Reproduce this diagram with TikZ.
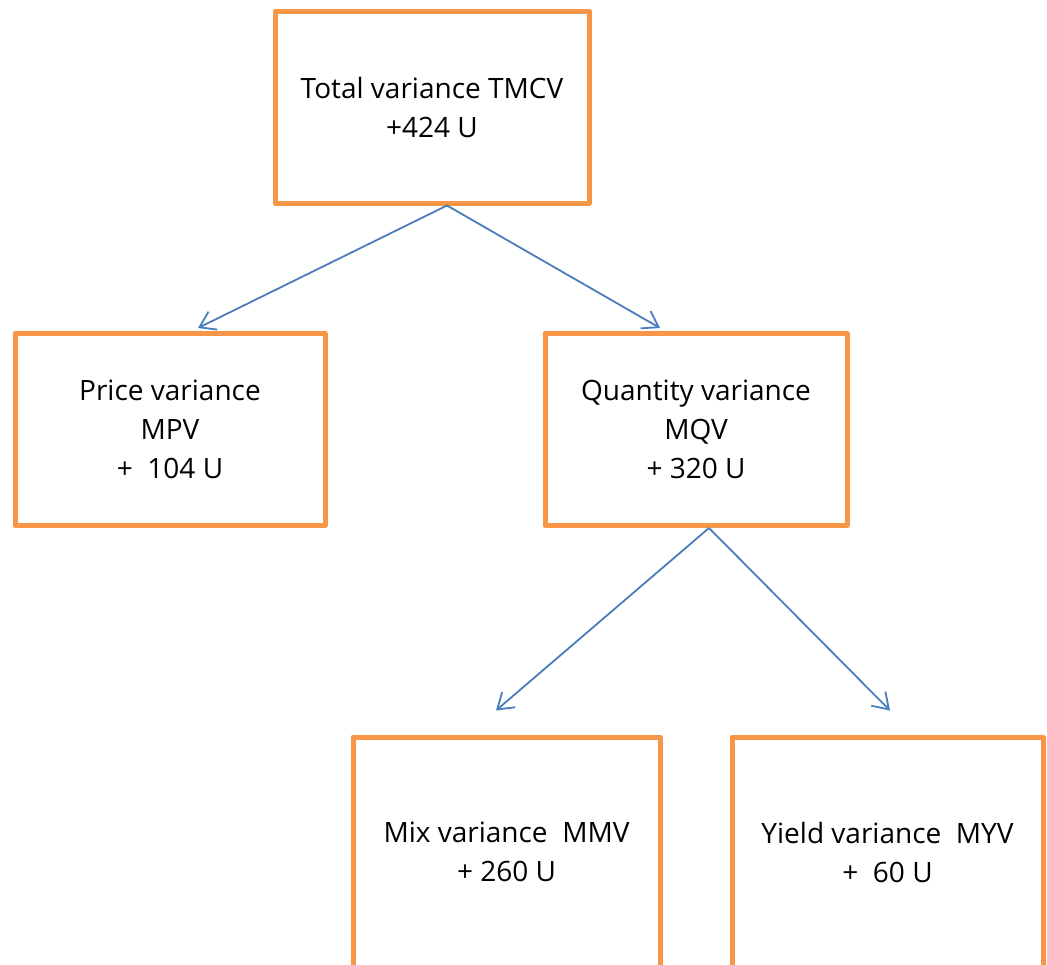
\documentclass[tikz,border=0pt]{standalone}
\usepackage{fontspec}
\setmainfont{Open Sans}
\usetikzlibrary{arrows.meta,calc}
\definecolor{boxorange}{HTML}{F79646}
\definecolor{linkblue}{HTML}{4A7EBB}
\begin{document}
\begin{tikzpicture}[x=1pt,y=-1pt,
  varbox/.style={draw=boxorange,line width=5pt,line join=round,rectangle,
    align=center,inner sep=0pt,font=\fontsize{28}{39}\selectfont},
  link/.style={draw=linkblue,line width=1.8pt,
    -{Straight Barb[length=15pt,width=20pt,line width=1.8pt]}}]
\useasboundingbox (0,0) rectangle (1047,964);
\clip (0,0) rectangle (1047,964);

% variance boxes
\node[varbox,minimum width=314pt,minimum height=192pt] (total) at (432,107)
  {Total variance TMCV\\+424 U};
\node[varbox,minimum width=310pt,minimum height=192pt] (price) at (170,429.5)
  {Price variance\\MPV\\+\ \ 104 U};
\node[varbox,minimum width=302pt,minimum height=192pt] (qty) at (696,429.5)
  {Quantity variance\\MQV\\+ 320 U};
\node[varbox,minimum width=307pt,minimum height=230pt] (mix) at (506.5,852)
  {Mix variance\ \ MMV\\+ 260 U};
\node[varbox,minimum width=311pt,minimum height=230pt] (yield) at (887.5,852)
  {Yield variance\ \ MYV\\+\ \ 60 U};

% connectors
\draw[link] ($(total.south)+(15,0)$) -- ($(price.north)+(28,-3)$);
\draw[link] ($(total.south)+(15,0)$) -- ($(qty.north)+(-36,-3)$);
\draw[link] ($(qty.south)+(13,0)$) -- ($(mix.north)+(-10.5,-24)$);
\draw[link] ($(qty.south)+(13,0)$) -- ($(yield.north)+(2.5,-24)$);
\end{tikzpicture}
\end{document}
